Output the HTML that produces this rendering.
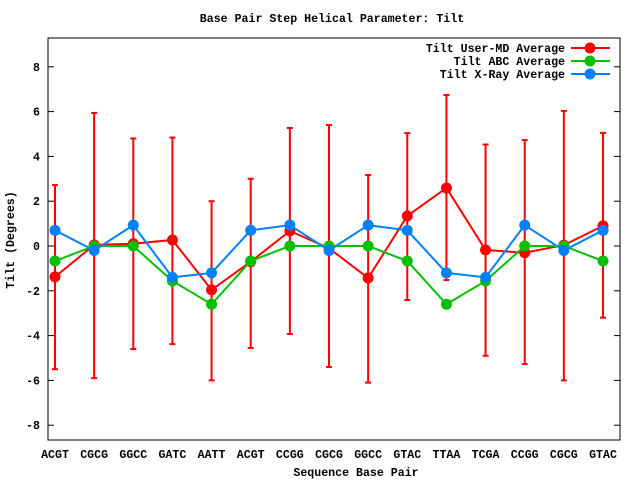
<!DOCTYPE html>
<html><head><meta charset="utf-8"><style>
html,body{margin:0;padding:0;background:#fff}
svg{display:block}
text{font-family:"Liberation Mono","DejaVu Sans Mono",monospace;font-size:11.6px;font-weight:bold;fill:#000}
</style></head><body>
<svg id="chart" width="640" height="480">
<rect x="0" y="0" width="640" height="480" fill="#fff"/>
<text x="332" y="22" text-anchor="middle">Base Pair Step Helical Parameter: Tilt</text>
<text x="356" y="476" text-anchor="middle">Sequence Base Pair</text>
<text transform="translate(14,240) rotate(-90)" text-anchor="middle">Tilt (Degrees)</text>
<g id="axes"></g>
<g id="series"></g>
<g id="legend"></g>
<rect x="48" y="38" width="572" height="402" fill="none" stroke="#000" stroke-width="1"/>
</svg>
<script>
const categories=["ACGT","CGCG","GGCC","GATC","AATT","ACGT","CCGG","CGCG","GGCC","GTAC","TTAA","TCGA","CCGG","CGCG","GTAC"];
const yTicks=[-8,-6,-4,-2,0,2,4,6,8];
const userMD=[-1.38,0.05,0.1,0.27,-1.96,-0.7,0.67,-0.1,-1.43,1.34,2.59,-0.18,-0.3,0.04,0.9];
const userMDUpper=[2.72,5.94,4.8,4.84,2.0,3.0,5.27,5.4,3.17,5.04,6.74,4.53,4.73,6.03,5.05];
const userMDLower=[-5.5,-5.9,-4.6,-4.38,-6.0,-4.55,-3.93,-5.4,-6.1,-2.41,-1.52,-4.9,-5.27,-6.0,-3.2];
const abc=[-0.67,0,0,-1.56,-2.6,-0.67,0,0,0,-0.67,-2.6,-1.56,0,0,-0.67];
const xray=[0.7,-0.2,0.93,-1.4,-1.2,0.7,0.93,-0.2,0.93,0.7,-1.2,-1.4,0.93,-0.2,0.7];
const seriesNames=["Tilt User-MD Average","Tilt ABC Average","Tilt X-Ray Average"];

const NS="http://www.w3.org/2000/svg";
const X0=55,X1=603,Y0=246,PX=22.4;
function xs(i){return X0+i*(X1-X0)/(categories.length-1);}
function ys(v){return Y0-v*PX;}
function mk(tag,attrs,parent){const e=document.createElementNS(NS,tag);for(const k in attrs)e.setAttribute(k,attrs[k]);parent.appendChild(e);return e;}
const axes=document.getElementById('axes'),ser=document.getElementById('series'),leg=document.getElementById('legend');
yTicks.forEach(t=>{const y=ys(t);
 const l=mk('line',{x1:48,x2:54,y1:y,y2:y,stroke:'#000'},axes);
 
 
 const l2=mk('line',{x1:614,x2:620,y1:y,y2:y,stroke:'#000'},axes);
 
 
 const tx=mk('text',{x:40,y:y+4,'text-anchor':'end'},axes);tx.textContent=t;
 
 
});
categories.forEach((c,i)=>{const x=xs(i);
 const tx=mk('text',{x:x,y:458,'text-anchor':'middle'},axes);tx.textContent=c;
 
 
});
userMD.forEach((v,i)=>{const x=xs(i),t=ys(userMDUpper[i]),b=ys(userMDLower[i]);
 const g=mk('g',{stroke:'#ff0000','stroke-width':2},ser);
 
 
 mk('line',{x1:x,x2:x,y1:t,y2:b},g);
 mk('line',{x1:x-3,x2:x+3,y1:t,y2:t},g);
 mk('line',{x1:x-3,x2:x+3,y1:b,y2:b},g);
});
const sets=[[userMD,'#ff0000'],[abc,'#00c000'],[xray,'#0080ff']];
sets.forEach(([d,col],si)=>{
 const pl=mk('polyline',{points:d.map((v,i)=>xs(i)+','+ys(v)).join(' '),fill:'none',stroke:col,'stroke-width':2},ser);
 
 
 d.forEach((v,i)=>{const c=mk('circle',{cx:xs(i),cy:ys(v),r:5.5,fill:col},ser);
  
  });
 const y=48+si*13;
 const tx=mk('text',{x:565,y:y+4,'text-anchor':'end'},leg);tx.textContent=seriesNames[si];
 
 
 mk('line',{x1:571,x2:610,y1:y,y2:y,stroke:col,'stroke-width':2},leg);
 mk('circle',{cx:590,cy:y,r:5.5,fill:col},leg);
});
</script>
</body></html>
